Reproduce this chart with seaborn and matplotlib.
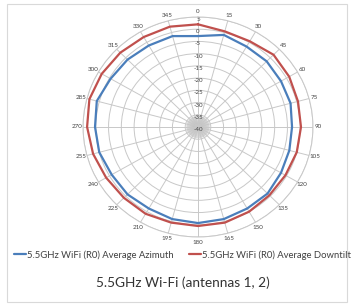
import numpy as np
import matplotlib
matplotlib.use("Agg")
import matplotlib.pyplot as plt
import seaborn as sns

angles_deg = [0, 15, 30, 45, 60, 75, 90, 105, 120, 135, 150, 165,
              180, 195, 210, 225, 240, 255, 270, 285, 300, 315, 330, 345]
azimuth = [-2.8, -1.0, -2.0, -2.0, -2.5, -2.5, -3.2, -3.0, -2.5, -1.5, -1.5, -1.0,
           -0.7, -1.0, -1.5, -1.0, -1.0, 0.0, 0.3, 1.0, -0.5, -1.0, -1.5, -1.5]
downtilt = [2.0, 0.5, 0.5, 1.8, 1.2, 0.5, 0.3, 0.0, -0.5, -0.5, 0.0, 0.5,
            0.5, 0.5, 1.0, 1.0, 1.5, 2.5, 3.4, 4.0, 3.5, 3.0, 2.5, 2.5]
r_ticks = [5, 0, -5, -10, -15, -20, -25, -30, -35, -40]
series_names = ["5.5GHz WiFi (R0) Average Azimuth", "5.5GHz WiFi (R0) Average Downtilt"]
series_colors = ["#4a7ebb", "#c0504d"]
title = "5.5GHz Wi-Fi (antennas 1, 2)"

sns.set_theme(style="white")
plt.rcParams['font.family'] = ['Lato', 'DejaVu Sans']

fig = plt.figure(figsize=(3.51, 3.05), dpi=100)
ax = fig.add_axes([83/351, (305-237)/305, 230/351, 220/305], projection='polar')
ax.set_aspect('auto')
ax.set_theta_zero_location('N')
ax.set_theta_direction(-1)
ax.set_ylim(-40, 5)

theta = np.deg2rad(angles_deg + [angles_deg[0]])
for vals, name, col in zip([azimuth, downtilt], series_names, series_colors):
    sns.lineplot(x=theta, y=vals + [vals[0]], ax=ax, color=col, lw=1.6,
                 sort=False, estimator=None, label=name, legend=False)

ax.set_thetagrids(angles_deg, [str(a) for a in angles_deg], fontsize=4.5, color='#444444')
ax.tick_params(axis='x', pad=-9)
ax.set_rgrids(r_ticks, [str(t) for t in r_ticks], angle=0, fontsize=4.5, color='#444444')
for lbl in ax.get_yticklabels():
    lbl.set_ha('center')
    lbl.set_va('top')
ax.grid(True, color='#c8c8c8', lw=0.7)
ax.spines['polar'].set_color('#c8c8c8')
ax.spines['polar'].set_linewidth(0.7)
# dense central star of spokes
for a in np.arange(0, 360, 4):
    ax.plot([np.deg2rad(a)] * 2, [-40, -35.5], color='#c0c0c0', lw=0.4, zorder=0)

handles, labels = ax.get_legend_handles_labels()
fig.legend(handles, labels, loc='center left', bbox_to_anchor=(0.04, 0.164), ncol=2,
           frameon=False, fontsize=6.8, handlelength=1.3, handletextpad=0.1,
           columnspacing=1.6, labelcolor='#404040', borderaxespad=0, borderpad=0)
fig.text(0.52, 0.072, title, ha='center', va='center', fontsize=9.8, color='#333333')

fig.patches.append(plt.Rectangle((7/351, 3/305), 340/351, 298/305, transform=fig.transFigure,
                                 fill=False, edgecolor='#d9d9d9', lw=0.8))
fig.savefig('out.png', dpi=100)
